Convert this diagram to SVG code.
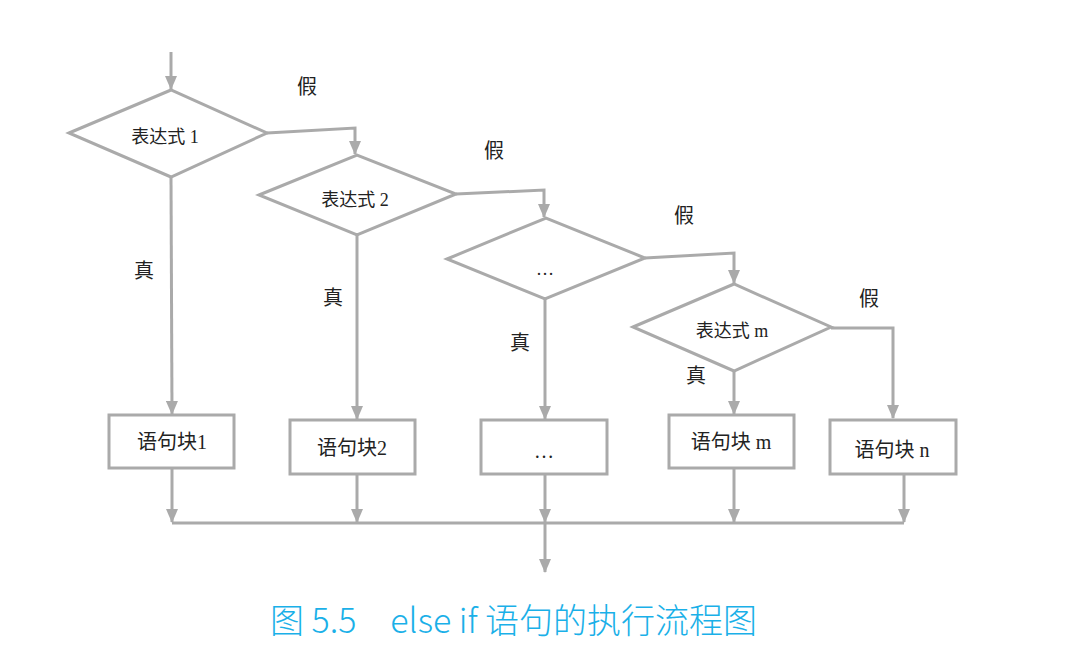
<svg xmlns="http://www.w3.org/2000/svg" width="1092" height="660" viewBox="0 0 1092 660">
<defs>
<marker id="ah" markerWidth="14" markerHeight="12" refX="13" refY="6" orient="auto" markerUnits="userSpaceOnUse" viewBox="0 0 14 12">
<path d="M0,0 L14,6 L0,12 Z" fill="#aaaaaa"/>
</marker>
<style>
.shape{fill:#ffffff;stroke:#aaaaaa;stroke-width:3}
.ln{fill:none;stroke:#aaaaaa;stroke-width:3}
.arr{fill:none;stroke:#aaaaaa;stroke-width:3}
.t{font-family:"Liberation Serif","Noto Sans CJK SC",serif;fill:#222222;text-anchor:middle}
.d{font-size:18px}
.b{font-size:20px}
.lab{font-size:20px}
.cap{font-family:"Noto Sans CJK SC","Liberation Sans",sans-serif;font-size:34px;fill:#1ab0e8;font-weight:300}
</style>
</defs>
<rect width="1092" height="660" fill="#ffffff"/>
<g id="connectors">
<path class="arr" d="M171,52 V89" marker-end="url(#ah)"/>
<path class="arr" d="M267,133 L355,128 V154" marker-end="url(#ah)"/>
<path class="arr" d="M456,194 L544,190 V217" marker-end="url(#ah)"/>
<path class="arr" d="M645,258 L734,253 V283" marker-end="url(#ah)"/>
<path class="arr" d="M831,328 H893 V418" marker-end="url(#ah)"/>
<path class="arr" d="M171,177 L172,414" marker-end="url(#ah)"/>
<path class="arr" d="M357,235 V419" marker-end="url(#ah)"/>
<path class="arr" d="M545,299 V419" marker-end="url(#ah)"/>
<path class="arr" d="M734,371 V414" marker-end="url(#ah)"/>
<path class="arr" d="M172,469 V522" marker-end="url(#ah)"/>
<path class="arr" d="M357,475 V522" marker-end="url(#ah)"/>
<path class="arr" d="M545,475 V522" marker-end="url(#ah)"/>
<path class="arr" d="M734,469 V522" marker-end="url(#ah)"/>
<path class="arr" d="M904,475 V522" marker-end="url(#ah)"/>
<path class="ln" d="M172,523 H904"/>
<path class="arr" d="M545,523 V572" marker-end="url(#ah)"/>
</g>
<g id="labels">
<text class="t lab" x="307" y="94">假</text>
<text class="t lab" x="494" y="158">假</text>
<text class="t lab" x="684" y="223">假</text>
<text class="t lab" x="869" y="306">假</text>
<text class="t lab" x="144" y="278">真</text>
<text class="t lab" x="333" y="305">真</text>
<text class="t lab" x="520" y="350">真</text>
<text class="t lab" x="696" y="383">真</text>
</g>
<g id="cond1">
<polygon class="shape" points="69,133 171,90 267,133 171,177"/>
<text class="t d" x="165" y="143">表达式 1</text>
</g>
<g id="cond2">
<polygon class="shape" points="259,195 357,155 456,194 357,235"/>
<text class="t d" x="355" y="206">表达式 2</text>
</g>
<g id="cond3">
<polygon class="shape" points="447,259 546,218 645,258 545,299"/>
<text class="t d" x="545" y="275">…</text>
</g>
<g id="condm">
<polygon class="shape" points="633,327 734,284 831,327 734,371"/>
<text class="t d" x="732" y="337">表达式 m</text>
</g>
<g id="block1">
<rect class="shape" x="109" y="415" width="125" height="53"/>
<text class="t b" x="172" y="449">语句块1</text>
</g>
<g id="block2">
<rect class="shape" x="290" y="420" width="125" height="54"/>
<text class="t b" x="352" y="455">语句块2</text>
</g>
<g id="block3">
<rect class="shape" x="481" y="420" width="126" height="54"/>
<text class="t b" x="544" y="458">…</text>
</g>
<g id="blockm">
<rect class="shape" x="669" y="415" width="125" height="53"/>
<text class="t b" x="731" y="449">语句块 m</text>
</g>
<g id="blockn">
<rect class="shape" x="830" y="420" width="126" height="54"/>
<text class="t b" x="892" y="457">语句块 n</text>
</g>
<text class="cap" x="270" y="633" textLength="487" lengthAdjust="spacing">图 5.5　else if 语句的执行流程图</text>
</svg>
